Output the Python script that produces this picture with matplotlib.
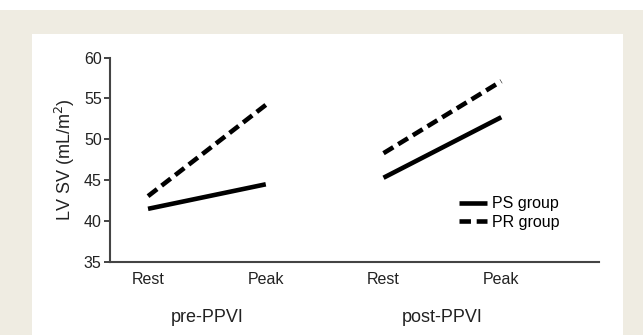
import matplotlib
matplotlib.use('Agg')
import matplotlib.pyplot as plt
from matplotlib.patches import Rectangle

plt.rcParams['font.family'] = ['Liberation Sans', 'DejaVu Sans']

x_pos = [1, 2, 3, 4]
tick_labels = ['Rest', 'Peak', 'Rest', 'Peak']
phases = ['pre-PPVI', 'post-PPVI']
ps_pre = [41.5, 44.5]
pr_pre = [43.05, 54.2]
ps_post = [45.3, 52.7]
pr_post = [48.3, 57.1]

fig = plt.figure(figsize=(6.43, 3.35), dpi=100)
fig.patch.set_facecolor('white')
fig.patches.append(Rectangle((0, 0), 1, 1 - 10 / 335, transform=fig.transFigure,
                             facecolor='#efece2', edgecolor='none', zorder=-2))
fig.patches.append(Rectangle((32 / 643, 0), (623 - 32) / 643, 1 - 34 / 335,
                             transform=fig.transFigure, facecolor='white',
                             edgecolor='none', zorder=-1))

ax = fig.add_axes([110 / 643, 73 / 335, (599 - 110) / 643, (277.5 - 73) / 335])
ax.set_facecolor('none')

dash = (0, (2.5, 1.25))
lw = 3.3
ax.plot(x_pos[:2], ps_pre, color='black', lw=lw, solid_capstyle='butt', label='PS group')
ax.plot(x_pos[:2], pr_pre, color='black', lw=lw, linestyle=dash, label='PR group')
ax.plot(x_pos[2:], ps_post, color='black', lw=lw, solid_capstyle='butt')
ax.plot(x_pos[2:], pr_post, color='black', lw=lw, linestyle=dash)

ax.set_ylim(35, 60)
ax.set_xlim(0.677, 4.83)
ax.set_yticks([35, 40, 45, 50, 55, 60])
ax.set_xticks(x_pos)
ax.set_xticklabels(tick_labels)
ax.tick_params(axis='x', length=0, pad=7, labelsize=11.5, colors='#222222')
ax.tick_params(axis='y', length=4, width=1.2, pad=2, labelsize=11.5,
               colors='#222222', direction='out')
for s in ['top', 'right']:
    ax.spines[s].set_visible(False)
for s in ['left', 'bottom']:
    ax.spines[s].set_color('#444444')
    ax.spines[s].set_linewidth(1.5)

ax.set_ylabel('LV SV (mL/m$^2$)', fontsize=13, color='#222222', labelpad=5)

for i, name in enumerate(phases):
    xc = (x_pos[2 * i] + x_pos[2 * i + 1]) / 2
    ax.text(xc, -0.27, name, transform=ax.get_xaxis_transform(),
            ha='center', va='center', fontsize=13, color='#222222')

ax.legend(loc='center left', bbox_to_anchor=(0.70, 0.24), frameon=False,
          fontsize=11.5, handlelength=1.8, handletextpad=0.3, labelspacing=0.2,
          borderaxespad=0)

fig.savefig('out.png', dpi=100)
